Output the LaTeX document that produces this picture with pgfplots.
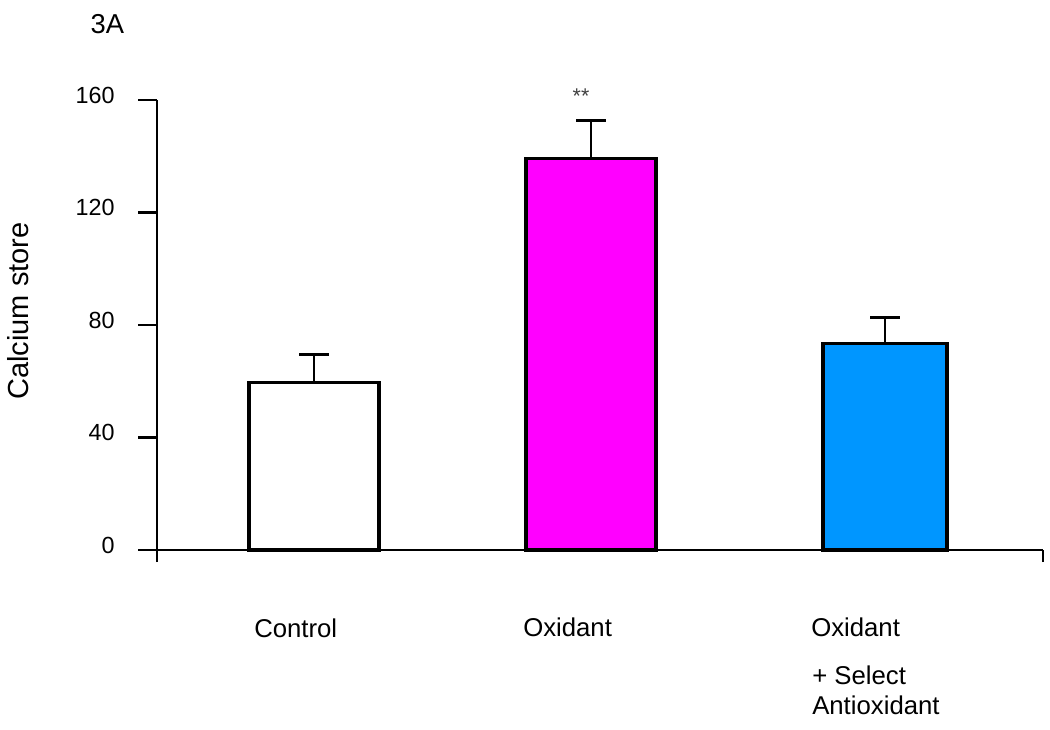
\documentclass[border=0pt]{standalone}
\usepackage{pgfplots}
\pgfplotsset{compat=1.18}
\usepackage{fontspec}
\setmainfont{Liberation Sans}
\definecolor{barblue}{RGB}{0,150,255}
\definecolor{barmag}{RGB}{255,0,255}
\begin{document}
\begin{tikzpicture}
\begin{scope}[x=0.75pt,y=-0.75pt]
\useasboundingbox (0,0) rectangle (1050,729);
\end{scope}
\begin{axis}[
  at={(117.75pt,-412.5pt)}, anchor=south west,
  scale only axis, width=664.5pt, height=337.5pt,
  xmin=157, xmax=1043, ymin=0, ymax=160,
  axis x line*=bottom, axis y line*=left,
  axis line style={-, line width=2.2pt, black},
  xtick={157,1043}, xticklabels={},
  ytick={0,40,80,120,160},
  tick align=outside,
  major tick length=14.25pt,
  xtick style={line width=2.2pt, black, /pgfplots/major tick length=9pt},
  ytick style={line width=2.2pt, black},
  /pgf/number format/assume math mode=true,
  yticklabel style={font=\fontsize{17.5}{20}\selectfont, yshift=3.5pt, xshift=-14pt},
  clip=false,
  ybar, bar shift=0pt,
  error bars/y dir=plus, error bars/y explicit,
  error bars/error mark=-,
  error bars/error mark options={line width=2.2pt, black, mark size=11.25pt, rotate=90},
  error bars/error bar style={line width=2.2pt, black},
]
\addplot[draw=black, line width=2.5pt, fill=white, bar width=130]
  coordinates {(314,59.6) +- (0,9.9)};
\addplot[draw=black, line width=2.5pt, fill=barmag, bar width=130]
  coordinates {(591,139.3) +- (0,13.3)};
\addplot[draw=black, line width=2.5pt, fill=barblue, bar width=124]
  coordinates {(885,73.4) +- (0,9.4)};
\node[text=black!75, font=\fontsize{16}{18}\selectfont] at (axis cs:581,161.5) {**};
\end{axis}
\begin{scope}[x=0.75pt,y=-0.75pt]
\node[anchor=base west, font=\fontsize{20.5}{24}\selectfont] at (86,33) {3A};
\node[rotate=90, font=\fontsize{21.75}{26}\selectfont] at (18,311) {Calcium store};
\node[anchor=base west, font=\fontsize{19.3}{23}\selectfont, inner sep=0pt] at (254,637) {Control};
\node[anchor=base west, font=\fontsize{19.3}{23}\selectfont, inner sep=0pt] at (523,636) {Oxidant};
\node[anchor=base west, font=\fontsize{19.3}{23}\selectfont, inner sep=0pt] at (811,636) {Oxidant};
\node[anchor=base west, font=\fontsize{19.3}{23}\selectfont, inner sep=0pt] at (812,684) {+ Select};
\node[anchor=base west, font=\fontsize{19.3}{23}\selectfont, inner sep=0pt] at (812,714) {Antioxidant};
\end{scope}
\end{tikzpicture}
\end{document}
